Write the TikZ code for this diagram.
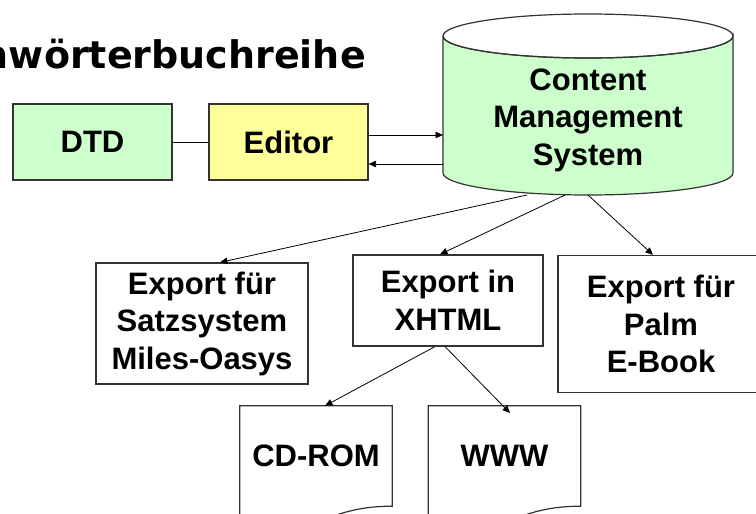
\documentclass[tikz,border=0pt]{standalone}
\usepackage{fontspec}
\setmainfont{Liberation Sans}
\newfontfamily\titlefont{DejaVu Sans}
\usetikzlibrary{arrows.meta,calc}
\definecolor{lgreen}{HTML}{CCFFCC}
\definecolor{lyellow}{HTML}{FFFF99}
\definecolor{bord}{HTML}{333333}
\begin{document}
\begin{tikzpicture}[x=1pt,y=-1pt,
  boxtext/.style={font=\bfseries\fontsize{31}{37.5}\selectfont, align=center},
  box/.style={draw=bord, line width=1.2pt, inner sep=0pt, boxtext},
  conn/.style={draw=black, line width=0.8pt},
  arr/.style={conn, -{Triangle[length=7.5pt,width=6.5pt]}},
  doc/.style={inner sep=0pt, minimum width=152pt, minimum height=100pt, boxtext}
]
\useasboundingbox (0,0) rectangle (756,514);
% title
\node[anchor=base east, inner sep=0pt, font=\titlefont\bfseries\fontsize{38}{46}\selectfont] (title) at (366,68) {nwörterbuchreihe};
% top boxes
\node[box, fill=lgreen, minimum width=159pt, minimum height=76pt] (dtd) at (92.5,142) {DTD};
\node[box, fill=lyellow, minimum width=159pt, minimum height=76pt] (editor) at (288.5,142) {Editor};
% cylinder
\coordinate (cyl) at (588,104.5);
\path[fill=lgreen, draw=bord, line width=1.2pt]
  ($(cyl)+(-145,-68.5)$) -- ($(cyl)+(-145,68.5)$)
  arc[start angle=180, end angle=360, x radius=145, y radius=-22]
  -- ($(cyl)+(145,-68.5)$)
  arc[start angle=0, end angle=180, x radius=145, y radius=22];
\draw[bord, line width=1.2pt] ($(cyl)+(0,-68.5)$) ellipse[x radius=145, y radius=22];
\node[boxtext] (cms) at (588,120) {Content\\Management\\System};
% export boxes
\node[box, minimum width=212pt, minimum height=121pt] (satz) at (202,323.5) {Export für\\Satzsystem\\Miles-Oasys};
\node[box, minimum width=190pt, minimum height=91pt] (xhtml) at (448,300.5) {Export in\\XHTML};
\node[box, minimum width=206pt, minimum height=137pt] (palm) at (661,324) {Export für\\Palm\\E-Book};
% documents
\node[doc] (cd) at (316,456) {CD-ROM};
\node[doc] (www) at (504.5,456) {WWW};
\foreach \d in {cd,www}{
  \draw[bord, line width=1.2pt] (\d.south west) -- (\d.north west) -- (\d.north east) -- (\d.south east)
    .. controls (\d.south) and ($(\d.south)+(0,38)$) .. ($(\d.south west)+(0,16)$) -- (\d.south west);
}
% connectors
\draw[conn] (dtd.east) -- (editor.west);
\coordinate (cmsW1) at (443,135);
\coordinate (cmsW2) at (443,164);
\draw[arr] (editor.east |- cmsW1) -- (cmsW1);
\draw[arr] (cmsW2) -- (editor.east |- cmsW2);
\coordinate (b1) at (527,195);
\coordinate (b2) at (565,195);
\coordinate (b3) at (588,195);
\draw[arr] (b1) -- (satz.north -| 220,0);
\draw[arr] (b2) -- (xhtml.north -| 440,0);
\draw[arr] (b3) -- (palm.north -| 653,0);
\coordinate (x1) at (435,346);
\coordinate (x2) at (445,346);
\coordinate (wtip) at (510,413);
\draw[arr] (xhtml.south -| x1) -- (cd.north -| 325,0);
\draw[arr] (xhtml.south -| x2) -- (wtip);
\end{tikzpicture}
\end{document}
